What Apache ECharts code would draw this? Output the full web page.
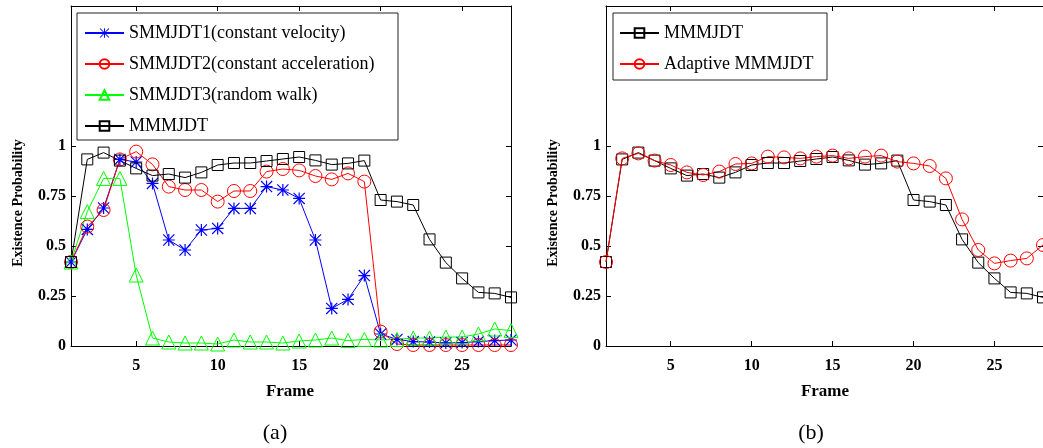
<!DOCTYPE html>
<html>
<head>
<meta charset="utf-8">
<script src="https://cdn.jsdelivr.net/npm/echarts@6/dist/echarts.min.js"></script>
<style>
html,body{margin:0;padding:0;background:#fff;}
#c{width:1043px;height:448px;}
</style>
</head>
<body>
<div id="c"></div>
<script>
var frames = [1,2,3,4,5,6,7,8,9,10,11,12,13,14,15,16,17,18,19,20,21,22,23,24,25,26,27,28];
var smmjdt1 = [0.42,0.583,0.69,0.933,0.92,0.813,0.53,0.48,0.58,0.588,0.688,0.688,0.797,0.78,0.738,0.53,0.188,0.233,0.352,0.06,0.033,0.022,0.02,0.015,0.017,0.022,0.027,0.03];
var smmjdt2 = [0.42,0.597,0.68,0.933,0.972,0.908,0.797,0.78,0.78,0.722,0.775,0.775,0.872,0.885,0.878,0.85,0.833,0.863,0.822,0.072,0.01,0.005,0.005,0.005,0.005,0.005,0.005,0.005];
var smmjdt3 = [0.42,0.672,0.838,0.838,0.355,0.04,0.02,0.015,0.015,0.01,0.03,0.02,0.02,0.015,0.025,0.03,0.04,0.027,0.033,0.03,0.033,0.04,0.04,0.045,0.045,0.06,0.085,0.077];
var mmmjdt = [0.42,0.933,0.967,0.927,0.888,0.852,0.86,0.842,0.868,0.905,0.915,0.915,0.925,0.935,0.945,0.928,0.907,0.913,0.927,0.73,0.722,0.705,0.533,0.417,0.338,0.268,0.263,0.243];
var adaptive = [0.42,0.938,0.963,0.927,0.905,0.868,0.855,0.872,0.91,0.913,0.947,0.943,0.938,0.947,0.952,0.938,0.947,0.952,0.922,0.913,0.9,0.838,0.633,0.48,0.413,0.427,0.438,0.505];
var xTicks = [5,10,15,20,25];
var yTicks = [0,0.25,0.5,0.75,1];
var namesA = ['SMMJDT1(constant velocity)','SMMJDT2(constant acceleration)','SMMJDT3(random walk)','MMMJDT'];
var namesB = ['MMMJDT','Adaptive MMMJDT'];

function pts(arr){ return frames.map(function(f,i){ return [f, arr[i]]; }); }

var SERIF = 'Liberation Serif';
var star = 'path://M4.5,0L5.5,0L5.5,10L4.5,10Z M0,4.5L10,4.5L10,5.5L0,5.5Z M0.7,0L10,9.3L9.3,10L0,0.7Z M9.3,0L10,0.7L0.7,10L0,9.3Z';

function xAx(grid, pos){
  return {type:'value', gridIndex:grid, position:pos, min:1, max:28,
    axisLine:{show:true, onZero:false, lineStyle:{color:'#000', width:1}},
    axisTick:{show:true, inside:true, length:5, customValues:xTicks, lineStyle:{color:'#000'}},
    axisLabel:{show:pos==='bottom', customValues:xTicks, margin:12, color:'#000', fontFamily:SERIF, fontWeight:'bold', fontSize:16},
    splitLine:{show:false}};
}
function yAx(grid, pos){
  return {type:'value', gridIndex:grid, position:pos, min:0, max:1.7,
    axisLine:{show:true, onZero:false, lineStyle:{color:'#000', width:1}},
    axisTick:{show:true, inside:true, length:5, customValues:yTicks, lineStyle:{color:'#000'}},
    axisLabel:{show:pos==='left', customValues:yTicks, margin:5, color:'#000', fontFamily:SERIF, fontWeight:'bold', fontSize:16},
    splitLine:{show:false}};
}
function ser(name, arr, color, symbol, size, xi, yi){
  var isStar = symbol===star;
  return {type:'line', name:name, data:pts(arr), xAxisIndex:xi, yAxisIndex:yi,
    symbol:symbol, symbolSize:size, showAllSymbol:true,
    lineStyle:{color:color, width:1},
    itemStyle:{color: isStar ? color : 'rgba(255,255,255,0)', borderColor:color, borderWidth: isStar?0:1},
    emphasis:{disabled:true}, animation:false};
}

var chart = echarts.init(document.getElementById('c'));
chart.setOption({
  animation:false,
  grid:[{left:71, top:6, width:440, height:340}, {left:606, top:6, width:439, height:340}],
  xAxis:[xAx(0,'bottom'), xAx(0,'top'), xAx(1,'bottom'), xAx(1,'top')],
  yAxis:[yAx(0,'left'), yAx(0,'right'), yAx(1,'left'), yAx(1,'right')],
  legend:[
    {data:namesA, orient:'vertical', left:84, top:23, padding:0, itemGap:11, itemWidth:39, itemHeight:12, z:10,
     textStyle:{fontFamily:SERIF, fontSize:18, color:'#000', lineHeight:20}, selectedMode:false},
    {data:namesB, orient:'vertical', left:619, top:23, padding:0, itemGap:11, itemWidth:39, itemHeight:12, z:10,
     textStyle:{fontFamily:SERIF, fontSize:18, color:'#000', lineHeight:20}, selectedMode:false}
  ],
  series:[
    ser(namesA[0], smmjdt1, '#0000ff', star, 12, 0, 0),
    ser(namesA[1], smmjdt2, '#ff0000', 'circle', 13, 0, 0),
    ser(namesA[2], smmjdt3, '#00ff00', 'triangle', 14, 0, 0),
    ser(namesA[3], mmmjdt, '#000000', 'rect', 11, 0, 0),
    ser(namesB[0], mmmjdt, '#000000', 'rect', 11, 2, 2),
    ser(namesB[1], adaptive, '#ff0000', 'circle', 13, 2, 2)
  ],
  graphic:[
    {type:'rect', shape:{x:77, y:13, width:321, height:127}, style:{fill:'#fff', stroke:'#222', lineWidth:1}, z:5},
    {type:'rect', shape:{x:613, y:13, width:214, height:67}, style:{fill:'#fff', stroke:'#222', lineWidth:1}, z:5},
    {type:'text', x:18, y:203, rotation:Math.PI/2, style:{text:'Existence Probability', font:'bold 14px "Liberation Serif"', fill:'#000', align:'center', verticalAlign:'middle'}},
    {type:'text', x:553, y:203, rotation:Math.PI/2, style:{text:'Existence Probability', font:'bold 14px "Liberation Serif"', fill:'#000', align:'center', verticalAlign:'middle'}},
    {type:'text', x:290, y:392, style:{text:'Frame', font:'bold 17px "Liberation Serif"', fill:'#000', align:'center', verticalAlign:'middle'}},
    {type:'text', x:825, y:392, style:{text:'Frame', font:'bold 17px "Liberation Serif"', fill:'#000', align:'center', verticalAlign:'middle'}},
    {type:'text', x:275, y:433, style:{text:'(a)', font:'22px "Liberation Serif"', fill:'#000', align:'center', verticalAlign:'middle'}},
    {type:'text', x:811, y:433, style:{text:'(b)', font:'22px "Liberation Serif"', fill:'#000', align:'center', verticalAlign:'middle'}}
  ]
});
</script>
</body>
</html>
